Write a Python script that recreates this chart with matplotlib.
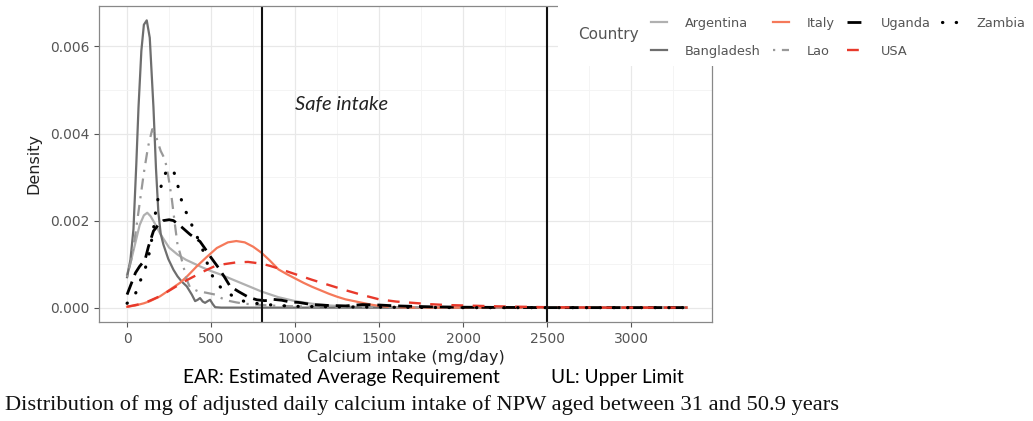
import matplotlib.pyplot as plt
from matplotlib.patches import Rectangle
from matplotlib.ticker import MultipleLocator, FormatStrFormatter

# Dichtekurven (x = mg/dag, y = densitet)
argentina_x = [0, 25, 50, 75, 100, 120, 140, 170, 200, 250, 300, 350, 400, 450, 500, 550, 600,
               650, 700, 750, 800, 900, 1000, 1100, 1200, 1300, 1400, 1600, 3330]
argentina_y = [0.00076, 0.0011, 0.0015, 0.0019, 0.00212, 0.00218, 0.0021, 0.0019, 0.00168, 0.00138,
               0.00122, 0.0011, 0.00101, 0.00092, 0.00084, 0.00077, 0.00069, 0.00061, 0.00053,
               0.00045, 0.00037, 0.00024, 0.00015, 0.00009, 0.00005, 0.00003, 0.00001, 0, 0]

bangladesh_x = [0, 20, 38, 55, 68, 85, 100, 117, 135, 157, 172, 186, 200, 216, 245, 276, 300, 325,
                355, 385, 405, 420, 434, 450, 464, 480, 494, 510, 524, 560, 3330]
bangladesh_y = [0.0007, 0.0011, 0.0018, 0.0033, 0.0046, 0.0059, 0.0065, 0.0066, 0.0062, 0.0046,
                0.0032, 0.0022, 0.0017, 0.00145, 0.00112, 0.00087, 0.00072, 0.0006, 0.00049,
                0.0003, 0.00015, 0.00018, 0.00022, 0.00014, 0.00011, 0.00015, 0.00018, 0.00008,
                0.00001, 0, 0]

italy_x = [0, 50, 100, 137, 196, 250, 315, 360, 415, 470, 534, 600, 650, 700, 750, 800, 850, 900,
           950, 1000, 1050, 1100, 1150, 1200, 1250, 1300, 1350, 1400, 1450, 1500, 1550, 1600, 1700, 3330]
italy_y = [0.00002, 0.00005, 0.0001, 0.00015, 0.00026, 0.0004, 0.00057, 0.00073, 0.00095, 0.00115,
           0.00137, 0.0015, 0.00153, 0.0015, 0.0014, 0.00126, 0.00108, 0.00088, 0.00077, 0.00067,
           0.00057, 0.00048, 0.0004, 0.00032, 0.00025, 0.00019, 0.00015, 0.00011, 0.00007,
           0.00004, 0.00002, 0.00001, 0, 0]

lao_x = [0, 25, 50, 75, 100, 125, 150, 175, 200, 226, 246, 266, 285, 300, 315, 335, 355, 375, 420,
         474, 524, 554, 600, 650, 700, 800, 900, 1000, 1200, 1500, 2500, 3330]
lao_y = [0.0007, 0.0011, 0.0017, 0.0024, 0.0031, 0.0037, 0.0041, 0.0039, 0.0036, 0.0034, 0.003,
         0.0025, 0.0019, 0.00145, 0.00125, 0.00095, 0.00064, 0.00046, 0.00038, 0.00034, 0.0003,
         0.00023, 0.00016, 0.00012, 0.00009, 0.00006, 0.00004, 0.00003, 0.00002, 0.00001, 0, 0]

uganda_x = [0, 25, 50, 75, 107, 127, 157, 186, 216, 250, 276, 325, 375, 434, 465, 494, 543, 580,
            613, 663, 722, 772, 820, 870, 920, 970, 1020, 1100, 1200, 1300, 1400, 1500, 1600, 1800,
            2000, 2500, 3330]
uganda_y = [0.0003, 0.00055, 0.0008, 0.00095, 0.0011, 0.0014, 0.00176, 0.0019, 0.002, 0.00202,
            0.002, 0.00185, 0.00168, 0.00152, 0.00135, 0.00118, 0.00092, 0.0007, 0.00049, 0.00037,
            0.00024, 0.00018, 0.00016, 0.00019, 0.00017, 0.00013, 0.00012, 0.00007, 0.00005,
            0.00004, 0.00007, 0.00006, 0.00004, 0.00002, 0.00001, 0, 0]

usa_x = [0, 100, 200, 276, 350, 454, 520, 580, 650, 720, 800, 850, 900, 1000, 1100, 1200, 1250,
         1300, 1400, 1500, 1600, 1700, 1800, 1900, 2000, 2200, 2500, 2800, 3330]
usa_y = [0.00002, 0.0001, 0.00027, 0.00045, 0.00062, 0.00083, 0.00095, 0.001, 0.00104, 0.00105,
         0.00101, 0.00096, 0.0009, 0.00077, 0.00064, 0.00052, 0.00046, 0.0004, 0.00029, 0.00019,
         0.00014, 0.00011, 0.00008, 0.00006, 0.00005, 0.00003, 0.00001, 0, 0]

zambia_x = [0, 25, 48, 77, 107, 135, 157, 173, 190, 210, 230, 253, 276, 296, 315, 335, 365, 395,
            420, 444, 474, 505, 534, 570, 603, 643, 700, 800, 900, 1000, 1200, 1500, 2000, 3330]
zambia_y = [0.0001, 0.00018, 0.0003, 0.0006, 0.00088, 0.0013, 0.0018, 0.0023, 0.0026, 0.0029,
            0.0031, 0.0032, 0.00315, 0.0029, 0.0026, 0.0023, 0.0021, 0.0018, 0.0016, 0.0014,
            0.00105, 0.00075, 0.00055, 0.00042, 0.00034, 0.00022, 0.00014, 0.00008, 0.00005,
            0.00003, 0.00002, 0.00001, 0, 0]

ear = 800
ul = 2500

fig = plt.figure(figsize=(10.33, 4.21), dpi=100)
ax = fig.add_axes([99 / 1033, 99 / 421, 613 / 1033, 316 / 421])

ax.plot(argentina_x, argentina_y, color='#b0b0b0', lw=1.6, label='Argentina')
ax.plot(bangladesh_x, bangladesh_y, color='#6e6e6e', lw=1.6, label='Bangladesh')
ax.plot(italy_x, italy_y, color='#f5795a', lw=1.6, label='Italy')
ax.plot(lao_x, lao_y, color='#999999', lw=1.6, linestyle=(0, (1, 3, 5, 3)), label='Lao')
ax.plot(uganda_x, uganda_y, color='black', lw=2.0, linestyle=(0, (5, 2.5)), label='Uganda')
ax.plot(usa_x, usa_y, color='#e8392b', lw=1.7, linestyle=(0, (5, 4)), label='USA')
ax.plot(zambia_x, zambia_y, color='black', lw=2.3, linestyle=(0, (0.1, 4.2)),
        dash_capstyle='round', label='Zambia')

ax.axvline(ear, color='#111111', lw=1.5)
ax.axvline(ul, color='#111111', lw=1.5)
ax.text(1000, 0.00467, 'Safe intake', fontsize=14.5, style='italic', family='Lato',
        color='#222222', va='center', ha='left')

ax.set_xlim(-167, 3480)
ax.set_ylim(-0.00033, 0.00693)
ax.xaxis.set_major_locator(MultipleLocator(500))
ax.xaxis.set_minor_locator(MultipleLocator(250))
ax.yaxis.set_major_locator(MultipleLocator(0.002))
ax.yaxis.set_minor_locator(MultipleLocator(0.001))
ax.yaxis.set_major_formatter(FormatStrFormatter('%.3f'))
ax.grid(which='major', color='#e8e8e8', lw=0.9)
ax.grid(which='minor', color='#f3f3f3', lw=0.6)
ax.set_axisbelow(True)
ax.tick_params(which='major', direction='out', length=3.5, width=0.8, color='#555555',
               labelcolor='#555555', labelsize=10)
ax.tick_params(which='minor', length=0)
for s in ax.spines.values():
    s.set_color('#888888')
    s.set_linewidth(0.9)

ax.set_xlabel('Calcium intake (mg/day)', fontsize=11.5, color='#222222', labelpad=3)
ax.set_ylabel('Density', fontsize=11.5, color='#222222', labelpad=6)

# vit ruta bakom legenden (som i originalet)
fig.patches.append(Rectangle((558 / 1033, 1 - 66 / 421), 1, 66 / 421, transform=fig.transFigure,
                             facecolor='white', edgecolor='none', zorder=2))
fig.text(578 / 1033, 1 - 35 / 421, 'Country', fontsize=11, color='#555555', va='center',
         ha='left', zorder=3)
leg = fig.legend(loc='upper left', bbox_to_anchor=(651 / 1033, 1 - 17 / 421), ncol=4,
                 fontsize=9.3, frameon=False, handlelength=1.25, handletextpad=1.4,
                 columnspacing=0.9, labelspacing=1.15, borderpad=0, borderaxespad=0)
leg.set_zorder(3)
for t in leg.get_texts():
    t.set_color('#555555')

fig.text(183 / 1033, 1 - 378 / 421, 'EAR: Estimated Average Requirement', fontsize=13.8,
         family='Lato', color='black', va='center', ha='left')
fig.text(551 / 1033, 1 - 378 / 421, 'UL: Upper Limit', fontsize=13.8,
         family='Lato', color='black', va='center', ha='left')
fig.text(5 / 1033, 1 - 405 / 421,
         'Distribution of mg of adjusted daily calcium intake of NPW aged between 31 and 50.9 years',
         fontsize=16.2, family='Liberation Serif', color='#111111', va='center', ha='left')

fig.savefig('out.png', dpi=100)
